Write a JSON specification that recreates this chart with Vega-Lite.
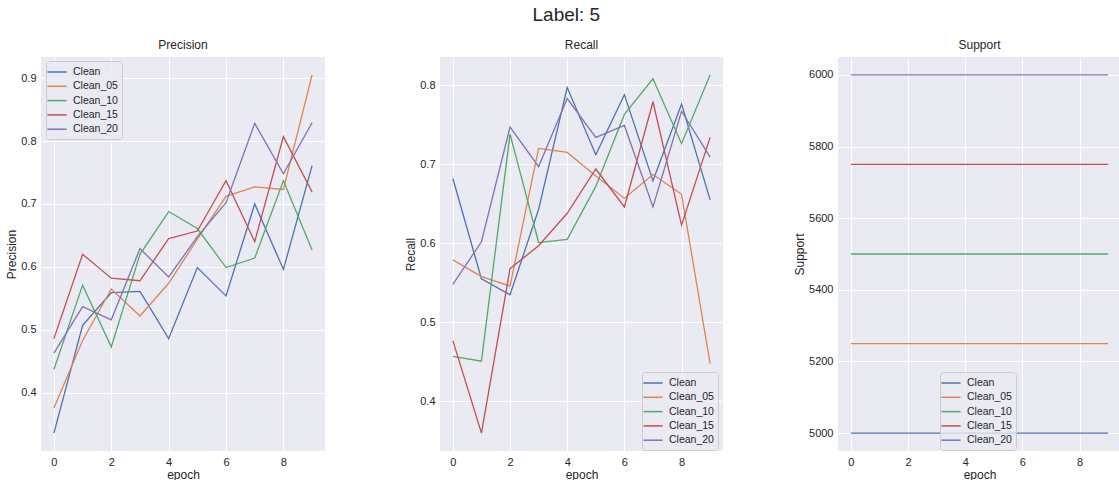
{
  "$schema": "https://vega.github.io/schema/vega-lite/v6.json",
  "padding": {"left": 5, "top": 6, "right": 0, "bottom": 0},
  "background": "white",
  "title": {"text": "Label: 5", "fontSize": 19, "font": "Liberation Sans", "fontWeight": "normal", "color": "#262626", "anchor": "middle", "offset": 14, "dx": 3},
  "config": {
    "font": "Liberation Sans",
    "view": {"fill": "#EAEAF2", "stroke": null},
    "axis": {
      "domain": false, "ticks": false, "grid": true, "gridColor": "white", "gridWidth": 1,
      "labelFont": "Liberation Sans", "labelFontSize": 11, "labelColor": "#262626", "labelPadding": 5,
      "titleFont": "Liberation Sans", "titleFontSize": 12, "titleFontWeight": "normal", "titleColor": "#262626", "titlePadding": 2
    },
    "legend": {
      "labelFont": "Liberation Sans", "labelFontSize": 10.5, "labelColor": "#262626",
      "symbolType": "M-1.6,0H1.6", "symbolSize": 144, "symbolStrokeWidth": 1.5,
      "fillColor": "rgba(234,234,242,0.8)", "strokeColor": "#CCCCCC", "padding": 4, "rowPadding": 1.3, "labelOffset": 9, "cornerRadius": 3,
      "title": null
    },
    "title": {"font": "Liberation Sans", "fontSize": 12, "fontWeight": "normal", "color": "#262626", "offset": 5}
  },
  "datasets": {
    "d": [
      {"metric": "Precision", "run": "Clean", "epoch": 0, "value": 0.336},
      {"metric": "Precision", "run": "Clean", "epoch": 1, "value": 0.507},
      {"metric": "Precision", "run": "Clean", "epoch": 2, "value": 0.559},
      {"metric": "Precision", "run": "Clean", "epoch": 3, "value": 0.561},
      {"metric": "Precision", "run": "Clean", "epoch": 4, "value": 0.486},
      {"metric": "Precision", "run": "Clean", "epoch": 5, "value": 0.599},
      {"metric": "Precision", "run": "Clean", "epoch": 6, "value": 0.554},
      {"metric": "Precision", "run": "Clean", "epoch": 7, "value": 0.700},
      {"metric": "Precision", "run": "Clean", "epoch": 8, "value": 0.596},
      {"metric": "Precision", "run": "Clean", "epoch": 9, "value": 0.761},
      {"metric": "Precision", "run": "Clean_05", "epoch": 0, "value": 0.376},
      {"metric": "Precision", "run": "Clean_05", "epoch": 1, "value": 0.483},
      {"metric": "Precision", "run": "Clean_05", "epoch": 2, "value": 0.565},
      {"metric": "Precision", "run": "Clean_05", "epoch": 3, "value": 0.522},
      {"metric": "Precision", "run": "Clean_05", "epoch": 4, "value": 0.574},
      {"metric": "Precision", "run": "Clean_05", "epoch": 5, "value": 0.644},
      {"metric": "Precision", "run": "Clean_05", "epoch": 6, "value": 0.712},
      {"metric": "Precision", "run": "Clean_05", "epoch": 7, "value": 0.727},
      {"metric": "Precision", "run": "Clean_05", "epoch": 8, "value": 0.723},
      {"metric": "Precision", "run": "Clean_05", "epoch": 9, "value": 0.905},
      {"metric": "Precision", "run": "Clean_10", "epoch": 0, "value": 0.437},
      {"metric": "Precision", "run": "Clean_10", "epoch": 1, "value": 0.571},
      {"metric": "Precision", "run": "Clean_10", "epoch": 2, "value": 0.473},
      {"metric": "Precision", "run": "Clean_10", "epoch": 3, "value": 0.620},
      {"metric": "Precision", "run": "Clean_10", "epoch": 4, "value": 0.688},
      {"metric": "Precision", "run": "Clean_10", "epoch": 5, "value": 0.661},
      {"metric": "Precision", "run": "Clean_10", "epoch": 6, "value": 0.599},
      {"metric": "Precision", "run": "Clean_10", "epoch": 7, "value": 0.614},
      {"metric": "Precision", "run": "Clean_10", "epoch": 8, "value": 0.737},
      {"metric": "Precision", "run": "Clean_10", "epoch": 9, "value": 0.627},
      {"metric": "Precision", "run": "Clean_15", "epoch": 0, "value": 0.486},
      {"metric": "Precision", "run": "Clean_15", "epoch": 1, "value": 0.620},
      {"metric": "Precision", "run": "Clean_15", "epoch": 2, "value": 0.582},
      {"metric": "Precision", "run": "Clean_15", "epoch": 3, "value": 0.578},
      {"metric": "Precision", "run": "Clean_15", "epoch": 4, "value": 0.645},
      {"metric": "Precision", "run": "Clean_15", "epoch": 5, "value": 0.657},
      {"metric": "Precision", "run": "Clean_15", "epoch": 6, "value": 0.737},
      {"metric": "Precision", "run": "Clean_15", "epoch": 7, "value": 0.640},
      {"metric": "Precision", "run": "Clean_15", "epoch": 8, "value": 0.807},
      {"metric": "Precision", "run": "Clean_15", "epoch": 9, "value": 0.719},
      {"metric": "Precision", "run": "Clean_20", "epoch": 0, "value": 0.463},
      {"metric": "Precision", "run": "Clean_20", "epoch": 1, "value": 0.537},
      {"metric": "Precision", "run": "Clean_20", "epoch": 2, "value": 0.516},
      {"metric": "Precision", "run": "Clean_20", "epoch": 3, "value": 0.629},
      {"metric": "Precision", "run": "Clean_20", "epoch": 4, "value": 0.584},
      {"metric": "Precision", "run": "Clean_20", "epoch": 5, "value": 0.648},
      {"metric": "Precision", "run": "Clean_20", "epoch": 6, "value": 0.702},
      {"metric": "Precision", "run": "Clean_20", "epoch": 7, "value": 0.828},
      {"metric": "Precision", "run": "Clean_20", "epoch": 8, "value": 0.748},
      {"metric": "Precision", "run": "Clean_20", "epoch": 9, "value": 0.829},
      {"metric": "Recall", "run": "Clean", "epoch": 0, "value": 0.682},
      {"metric": "Recall", "run": "Clean", "epoch": 1, "value": 0.555},
      {"metric": "Recall", "run": "Clean", "epoch": 2, "value": 0.535},
      {"metric": "Recall", "run": "Clean", "epoch": 3, "value": 0.643},
      {"metric": "Recall", "run": "Clean", "epoch": 4, "value": 0.797},
      {"metric": "Recall", "run": "Clean", "epoch": 5, "value": 0.712},
      {"metric": "Recall", "run": "Clean", "epoch": 6, "value": 0.788},
      {"metric": "Recall", "run": "Clean", "epoch": 7, "value": 0.679},
      {"metric": "Recall", "run": "Clean", "epoch": 8, "value": 0.776},
      {"metric": "Recall", "run": "Clean", "epoch": 9, "value": 0.655},
      {"metric": "Recall", "run": "Clean_05", "epoch": 0, "value": 0.579},
      {"metric": "Recall", "run": "Clean_05", "epoch": 1, "value": 0.558},
      {"metric": "Recall", "run": "Clean_05", "epoch": 2, "value": 0.546},
      {"metric": "Recall", "run": "Clean_05", "epoch": 3, "value": 0.720},
      {"metric": "Recall", "run": "Clean_05", "epoch": 4, "value": 0.715},
      {"metric": "Recall", "run": "Clean_05", "epoch": 5, "value": 0.685},
      {"metric": "Recall", "run": "Clean_05", "epoch": 6, "value": 0.657},
      {"metric": "Recall", "run": "Clean_05", "epoch": 7, "value": 0.687},
      {"metric": "Recall", "run": "Clean_05", "epoch": 8, "value": 0.662},
      {"metric": "Recall", "run": "Clean_05", "epoch": 9, "value": 0.448},
      {"metric": "Recall", "run": "Clean_10", "epoch": 0, "value": 0.457},
      {"metric": "Recall", "run": "Clean_10", "epoch": 1, "value": 0.451},
      {"metric": "Recall", "run": "Clean_10", "epoch": 2, "value": 0.738},
      {"metric": "Recall", "run": "Clean_10", "epoch": 3, "value": 0.601},
      {"metric": "Recall", "run": "Clean_10", "epoch": 4, "value": 0.605},
      {"metric": "Recall", "run": "Clean_10", "epoch": 5, "value": 0.672},
      {"metric": "Recall", "run": "Clean_10", "epoch": 6, "value": 0.763},
      {"metric": "Recall", "run": "Clean_10", "epoch": 7, "value": 0.808},
      {"metric": "Recall", "run": "Clean_10", "epoch": 8, "value": 0.726},
      {"metric": "Recall", "run": "Clean_10", "epoch": 9, "value": 0.813},
      {"metric": "Recall", "run": "Clean_15", "epoch": 0, "value": 0.477},
      {"metric": "Recall", "run": "Clean_15", "epoch": 1, "value": 0.360},
      {"metric": "Recall", "run": "Clean_15", "epoch": 2, "value": 0.568},
      {"metric": "Recall", "run": "Clean_15", "epoch": 3, "value": 0.597},
      {"metric": "Recall", "run": "Clean_15", "epoch": 4, "value": 0.638},
      {"metric": "Recall", "run": "Clean_15", "epoch": 5, "value": 0.694},
      {"metric": "Recall", "run": "Clean_15", "epoch": 6, "value": 0.646},
      {"metric": "Recall", "run": "Clean_15", "epoch": 7, "value": 0.779},
      {"metric": "Recall", "run": "Clean_15", "epoch": 8, "value": 0.623},
      {"metric": "Recall", "run": "Clean_15", "epoch": 9, "value": 0.734},
      {"metric": "Recall", "run": "Clean_20", "epoch": 0, "value": 0.548},
      {"metric": "Recall", "run": "Clean_20", "epoch": 1, "value": 0.602},
      {"metric": "Recall", "run": "Clean_20", "epoch": 2, "value": 0.747},
      {"metric": "Recall", "run": "Clean_20", "epoch": 3, "value": 0.697},
      {"metric": "Recall", "run": "Clean_20", "epoch": 4, "value": 0.783},
      {"metric": "Recall", "run": "Clean_20", "epoch": 5, "value": 0.734},
      {"metric": "Recall", "run": "Clean_20", "epoch": 6, "value": 0.749},
      {"metric": "Recall", "run": "Clean_20", "epoch": 7, "value": 0.646},
      {"metric": "Recall", "run": "Clean_20", "epoch": 8, "value": 0.767},
      {"metric": "Recall", "run": "Clean_20", "epoch": 9, "value": 0.709},
      {"metric": "Support", "run": "Clean", "epoch": 0, "value": 5000},
      {"metric": "Support", "run": "Clean", "epoch": 9, "value": 5000},
      {"metric": "Support", "run": "Clean_05", "epoch": 0, "value": 5250},
      {"metric": "Support", "run": "Clean_05", "epoch": 9, "value": 5250},
      {"metric": "Support", "run": "Clean_10", "epoch": 0, "value": 5500},
      {"metric": "Support", "run": "Clean_10", "epoch": 9, "value": 5500},
      {"metric": "Support", "run": "Clean_15", "epoch": 0, "value": 5750},
      {"metric": "Support", "run": "Clean_15", "epoch": 9, "value": 5750},
      {"metric": "Support", "run": "Clean_20", "epoch": 0, "value": 6000},
      {"metric": "Support", "run": "Clean_20", "epoch": 9, "value": 6000}
    ]
  },
  "spacing": 115,
  "bounds": "flush",
  "resolve": {"scale": {"y": "independent", "color": "independent"}, "legend": {"color": "independent"}},
  "hconcat": [
    {
      "title": "Precision",
      "width": 284, "height": 394,
      "data": {"name": "d"},
      "transform": [{"filter": "datum.metric === 'Precision'"}],
      "mark": {"type": "line", "strokeWidth": 1.3},
      "encoding": {
        "x": {"field": "epoch", "type": "quantitative", "title": "epoch", "scale": {"domain": [-0.45, 9.45], "nice": false, "zero": false}, "axis": {"values": [0, 2, 4, 6, 8]}},
        "y": {"field": "value", "type": "quantitative", "title": "Precision", "scale": {"domain": [0.3075, 0.9335], "nice": false, "zero": false}, "axis": {"values": [0.4, 0.5, 0.6, 0.7, 0.8, 0.9], "format": ".1f"}},
        "color": {"field": "run", "type": "nominal", "scale": {"domain": ["Clean", "Clean_05", "Clean_10", "Clean_15", "Clean_20"], "range": ["#4C72B0", "#DD8452", "#55A868", "#C44E52", "#8172B3"]}, "legend": {"orient": "none", "legendX": 5, "legendY": 4}}
      }
    },
    {
      "title": "Recall",
      "width": 283, "height": 394,
      "data": {"name": "d"},
      "transform": [{"filter": "datum.metric === 'Recall'"}],
      "mark": {"type": "line", "strokeWidth": 1.3},
      "encoding": {
        "x": {"field": "epoch", "type": "quantitative", "title": "epoch", "scale": {"domain": [-0.45, 9.45], "nice": false, "zero": false}, "axis": {"values": [0, 2, 4, 6, 8]}},
        "y": {"field": "value", "type": "quantitative", "title": "Recall", "scale": {"domain": [0.3374, 0.8356], "nice": false, "zero": false}, "axis": {"values": [0.4, 0.5, 0.6, 0.7, 0.8], "format": ".1f"}},
        "color": {"field": "run", "type": "nominal", "scale": {"domain": ["Clean", "Clean_05", "Clean_10", "Clean_15", "Clean_20"], "range": ["#4C72B0", "#DD8452", "#55A868", "#C44E52", "#8172B3"]}, "legend": {"orient": "none", "legendX": 202, "legendY": 315}}
      }
    },
    {
      "title": "Support",
      "width": 283, "height": 394,
      "data": {"name": "d"},
      "transform": [{"filter": "datum.metric === 'Support'"}],
      "mark": {"type": "line", "strokeWidth": 1.3},
      "encoding": {
        "x": {"field": "epoch", "type": "quantitative", "title": "epoch", "scale": {"domain": [-0.45, 9.45], "nice": false, "zero": false}, "axis": {"values": [0, 2, 4, 6, 8]}},
        "y": {"field": "value", "type": "quantitative", "title": "Support", "scale": {"domain": [4950, 6050], "nice": false, "zero": false}, "axis": {"values": [5000, 5200, 5400, 5600, 5800, 6000], "format": "d"}},
        "color": {"field": "run", "type": "nominal", "scale": {"domain": ["Clean", "Clean_05", "Clean_10", "Clean_15", "Clean_20"], "range": ["#4C72B0", "#DD8452", "#55A868", "#C44E52", "#8172B3"]}, "legend": {"orient": "none", "legendX": 102, "legendY": 315}}
      }
    }
  ]
}
